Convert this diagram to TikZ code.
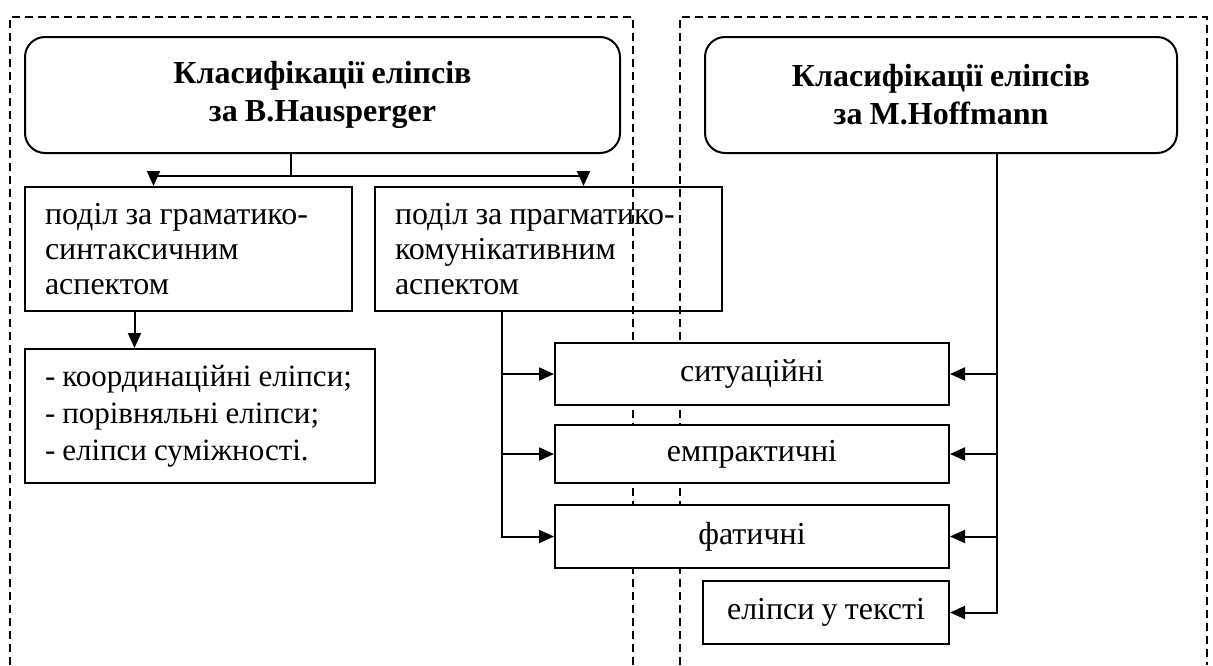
\documentclass[tikz,border=0pt]{standalone}
\usepackage{fontspec}
\setmainfont{Liberation Serif}[WordSpace=0.9]
\usepackage{tikz}
\usetikzlibrary{arrows.meta, positioning}

\begin{document}
\begin{tikzpicture}[x=1pt, y=-1pt,
  frame/.style={line width=1.2pt, dash pattern=on 8pt off 5pt},
  title/.style={draw, line width=2pt, rounded corners=20pt, fill=white,
    font=\fontsize{32}{38}\selectfont\bfseries, align=center},
  box/.style={draw, line width=2pt, fill=white, font=\fontsize{32}{35}\selectfont},
  leftbox/.style={box, align=flush left, inner xsep=20pt},
  link/.style={line width=2pt},
  arr/.style={link, -{Triangle[length=15pt, width=13pt]}}]
  \useasboundingbox (0,0) rectangle (1213,665);

  % Dashed frames (open at the bottom)
  \draw[frame] (10,665) -- (10,17) -- (633,17) -- (633,665);
  \draw[frame] (680,665) -- (680,17) -- (1207,17) -- (1207,665);

  % Headings
  \node[title, minimum width=595pt, minimum height=116pt] (haus) at (322.5,95)
    {Класифікації еліпсів\\за B.Hausperger};
  \node[title, minimum width=472pt, minimum height=116pt] (hoff) at (941,95)
    {Класифікації еліпсів\\за M.Hoffmann};

  % Hausperger side
  \node[leftbox, text width=287pt, minimum height=124pt] (gram) at (188.5,249)
    {поділ за граматико-\\синтаксичним\\аспектом};
  \node[leftbox, fill=none, text width=307pt, minimum height=124pt] (prag) at (548.5,249)
    {поділ за прагматико-\\комунікативним\\аспектом};
  \node[leftbox, text width=310pt, minimum height=134pt,
    font=\fontsize{31}{37}\selectfont] (list) at (200,416)
    {- координаційні еліпси;\\- порівняльні еліпси;\\- еліпси суміжності.};

  % Types
  \node[box, minimum width=394pt, minimum height=62pt] (sit) at (752,374) {ситуаційні};
  \node[box, minimum width=394pt, minimum height=58pt] (emp) at (752,454) {емпрактичні};
  \node[box, minimum width=394pt, minimum height=63pt] (fat) at (752,536.5) {фатичні};
  \node[box, minimum width=246pt, minimum height=63pt] (text) at (826,612.5) {еліпси у тексті};

  % Connectors
  \coordinate (hs) at ([xshift=-32pt]haus.south);
  \coordinate (split) at ([yshift=-22pt]hs);
  \draw[link] (hs) -- (split);
  \draw[arr] (split) -| ([xshift=-35pt]gram.north);
  \draw[arr] (split) -| ([xshift=35pt]prag.north);

  \coordinate (gs) at ([xshift=-54pt]gram.south);
  \draw[arr] (gs) -- (gs |- list.north);

  \coordinate (ps) at ([xshift=-47pt]prag.south);
  \draw[arr] (ps) |- (fat.west);
  \draw[arr] (ps |- sit.west) -- (sit.west);
  \draw[arr] (ps |- emp.west) -- (emp.west);

  \coordinate (hf) at ([xshift=56pt]hoff.south);
  \draw[arr] (hf) |- (text.east);
  \draw[arr] (hf |- sit.east) -- (sit.east);
  \draw[arr] (hf |- emp.east) -- (emp.east);
  \draw[arr] (hf |- fat.east) -- (fat.east);
\end{tikzpicture}
\end{document}
